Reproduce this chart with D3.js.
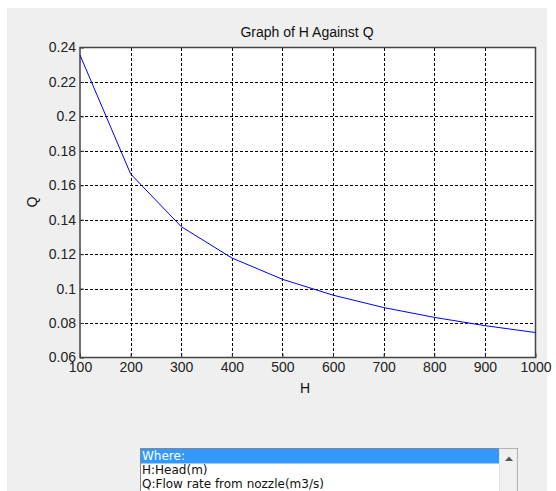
<!DOCTYPE html>
<html>
<head>
<meta charset="utf-8">
<script src="https://cdn.jsdelivr.net/npm/d3@7"></script>
<style>
body { margin: 0; background: #fff; }
svg text { font-family: Arial, "Liberation Sans", sans-serif; }
</style>
</head>
<body>
<div id="chart"></div>
<script>
// head values (m) and flow rate (m3/s)
var heads = [100, 200, 300, 400, 500, 600, 700, 800, 900, 1000];
var flows = [0.2356, 0.1666, 0.1360, 0.1178, 0.1054, 0.0962, 0.0890, 0.0833, 0.0785, 0.0745];
var xTicks = [100, 200, 300, 400, 500, 600, 700, 800, 900, 1000];
var yTicks = [0.06, 0.08, 0.1, 0.12, 0.14, 0.16, 0.18, 0.2, 0.22, 0.24];
var listItems = ["Where:", "H:Head(m)", "Q:Flow rate from nozzle(m3/s)"];

var width = 556, height = 491;
var plotL = 80, plotR = 535.5, plotT = 47.5, plotB = 357.5;

var svg = d3.select("#chart").append("svg")
    .attr("width", width)
    .attr("height", height);

// figure background
svg.append("rect").attr("x", 7).attr("y", 8)
    .attr("width", 540).attr("height", height - 8)
    .attr("fill", "#efefef");

var x = d3.scaleLinear().domain([100, 1000]).range([plotL, plotR]);
var y = d3.scaleLinear().domain([0.06, 0.24]).range([plotB, plotT]);

svg.append("rect").attr("x", plotL).attr("y", plotT)
    .attr("width", plotR - plotL).attr("height", plotB - plotT)
    .attr("fill", "#fff");

// grid
var grid = svg.append("g").attr("stroke", "#000").attr("stroke-width", 1)
    .attr("stroke-dasharray", "3,2").attr("shape-rendering", "crispEdges");
grid.selectAll(".gx").data(xTicks.slice(1, -1)).enter().append("line")
    .attr("x1", function(d){ return Math.round(x(d)) + 0.5; })
    .attr("x2", function(d){ return Math.round(x(d)) + 0.5; })
    .attr("y1", plotT).attr("y2", plotB);
grid.selectAll(".gy").data(yTicks.slice(1, -1)).enter().append("line")
    .attr("y1", function(d){ return Math.round(y(d)) + 0.5; })
    .attr("y2", function(d){ return Math.round(y(d)) + 0.5; })
    .attr("x1", plotL).attr("x2", plotR);

// axes
var xAxis = d3.axisBottom(x).tickValues(xTicks).tickSizeInner(-4).tickSizeOuter(0).tickPadding(3)
    .tickFormat(d3.format("d"));
var yAxis = d3.axisLeft(y).tickValues(yTicks).tickSizeInner(-4).tickSizeOuter(0).tickPadding(4)
    .tickFormat(function(d){ return String(+d.toFixed(2)); });

var gx = svg.append("g").attr("transform", "translate(0," + plotB + ")").call(xAxis);
var gy = svg.append("g").attr("transform", "translate(" + plotL + ",0)").call(yAxis);
[gx, gy].forEach(function(g){
    g.select(".domain").remove();
    g.selectAll("line").attr("stroke", "#333");
    g.selectAll("text").attr("fill", "#222").style("font-size", "14px")
        .style("font-family", "Arial, 'Liberation Sans', sans-serif");
});
gx.selectAll("text").attr("dy", "0.8em");

svg.append("rect").attr("x", plotL).attr("y", plotT)
    .attr("width", plotR - plotL).attr("height", plotB - plotT)
    .attr("fill", "none").attr("stroke", "#444").attr("stroke-width", 1.5);

// the curve
var line = d3.line()
    .x(function(d){ return x(d[0]); })
    .y(function(d){ return y(d[1]); });
svg.append("path")
    .datum(heads.map(function(h, i){ return [h, flows[i]]; }))
    .attr("d", line)
    .attr("fill", "none").attr("stroke", "#0000ff").attr("stroke-width", 1);

// titles
svg.append("text").attr("x", 307).attr("y", 36.5).attr("text-anchor", "middle")
    .style("font-size", "14px").attr("fill", "#111").text("Graph of H Against Q");
svg.append("text").attr("x", 305).attr("y", 393).attr("text-anchor", "middle")
    .style("font-size", "14px").attr("fill", "#111").text("H");
svg.append("text").attr("transform", "translate(36.5,202) rotate(-90)").attr("text-anchor", "middle")
    .style("font-size", "14px").attr("fill", "#111").text("Q");

// list box
var lb = svg.append("g");
lb.append("rect").attr("x", 140.5).attr("y", 448.5).attr("width", 377).attr("height", 50)
    .attr("fill", "#fff").attr("stroke", "#828790");
lb.append("rect").attr("x", 499.5).attr("y", 449).attr("width", 17.5).attr("height", 48)
    .attr("fill", "#f0f0f0").attr("stroke", "#e3e3e3");
lb.append("path").attr("d", "M505,461 L509,456.5 L513,461 Z").attr("fill", "#555");
lb.append("rect").attr("x", 141).attr("y", 449).attr("width", 358).attr("height", 14.5)
    .attr("fill", "#3399ff");
lb.selectAll(".item").data(listItems).enter().append("text")
    .attr("x", 142)
    .attr("y", function(d, i){ return 460 + i * 14; })
    .attr("fill", function(d, i){ return i == 0 ? "#fff" : "#111"; })
    .style("font-size", "12px")
    .style("font-family", "'DejaVu Sans', Tahoma, sans-serif")
    .text(function(d){ return d; });
</script>
</body>
</html>
